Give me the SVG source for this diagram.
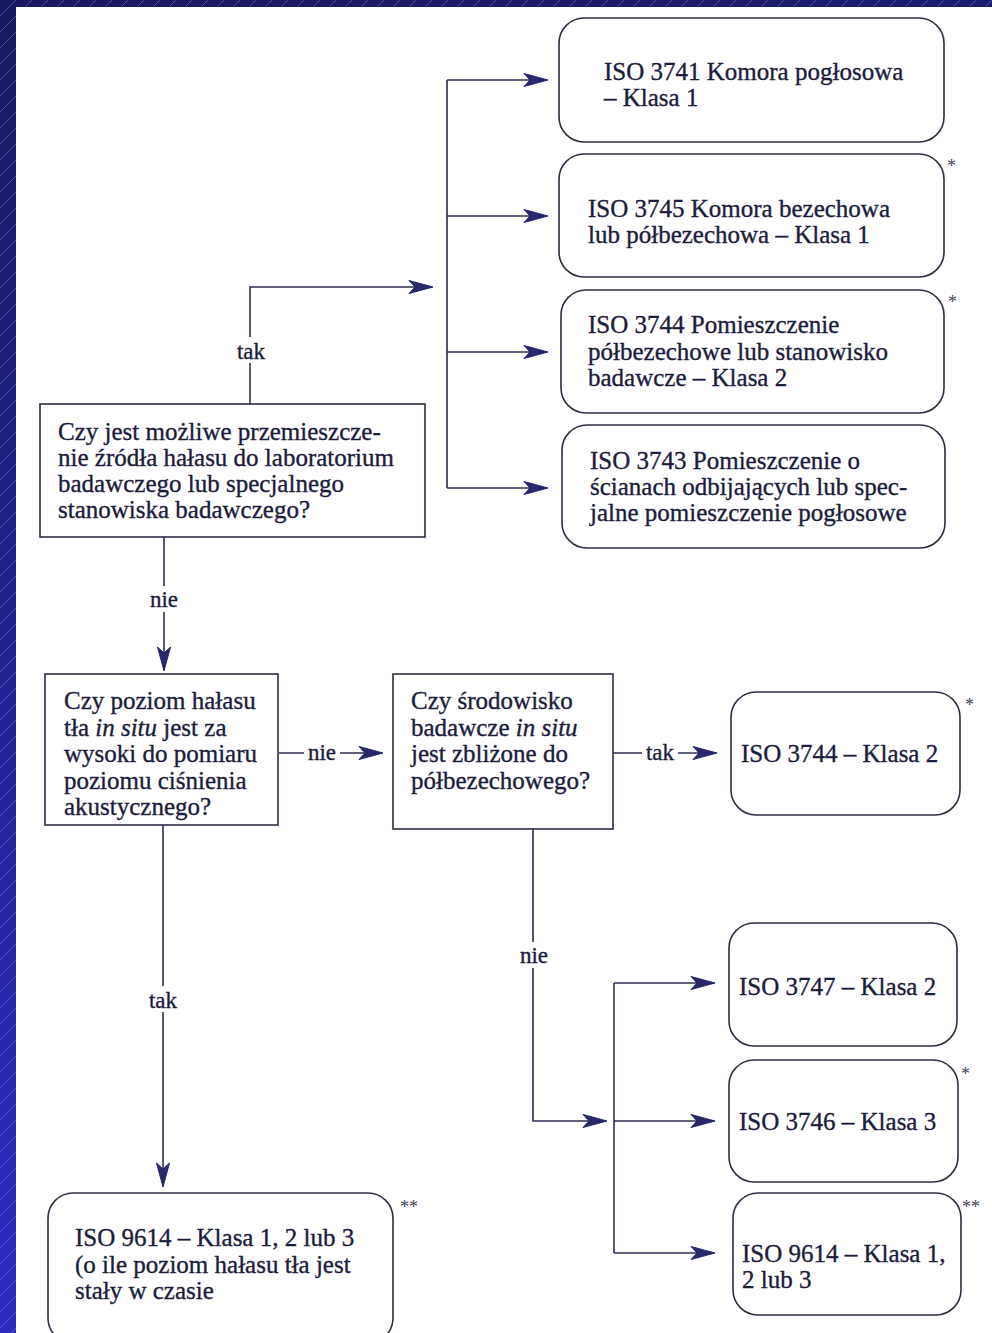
<svg xmlns="http://www.w3.org/2000/svg" width="992" height="1333" viewBox="0 0 992 1333">
<defs>
<linearGradient id="bg" x1="0" y1="0" x2="0.15" y2="1">
<stop offset="0" stop-color="#19195f"/>
<stop offset="1" stop-color="#2c2cc4"/>
</linearGradient>
<pattern id="stripes" patternUnits="userSpaceOnUse" width="16" height="16">
<line x1="0" y1="16" x2="16" y2="0" stroke="#9a9ae0" stroke-width="0.7" stroke-opacity="0.55"/>
</pattern>
<marker id="arr" viewBox="0 0 24 14" markerUnits="userSpaceOnUse" markerWidth="24" markerHeight="14" refX="23" refY="7" orient="auto" overflow="visible">
<path d="M0,0.5 L24,7 L0,13.5 L6,7 Z" fill="#28286c" stroke="#28286c" stroke-width="1" stroke-linejoin="round"/>
</marker>
<style>
.box{fill:#ffffff;stroke:#2e2e44;stroke-width:1.6}
.t{font-family:"Liberation Serif","DejaVu Serif",serif;font-size:25px;fill:#1c1c3c;stroke:#1c1c3c;stroke-width:0.35}
.lbl{font-family:"Liberation Serif","DejaVu Serif",serif;font-size:23px;fill:#1c1c3c;stroke:#1c1c3c;stroke-width:0.35;text-anchor:middle}
.star{font-family:"Liberation Serif","DejaVu Serif",serif;font-size:18px;fill:#444455}
.c{fill:none;stroke:#2e2e55;stroke-width:1.6}
.lbg{fill:#ffffff}
</style>
</defs>
<rect x="0" y="0" width="992" height="1333" fill="url(#bg)"/>
<rect x="0" y="0" width="992" height="1333" fill="url(#stripes)"/>
<rect x="16" y="7" width="976" height="1326" fill="#ffffff"/>

<g id="connectors">
<path class="c" d="M250,404 V287 H432" marker-end="url(#arr)"/>
<path class="c" d="M447,80 V488"/>
<path class="c" d="M447,80 H547" marker-end="url(#arr)"/>
<path class="c" d="M447,216 H547" marker-end="url(#arr)"/>
<path class="c" d="M447,352 H547" marker-end="url(#arr)"/>
<path class="c" d="M447,488 H547" marker-end="url(#arr)"/>
<path class="c" d="M164,537 V670" marker-end="url(#arr)"/>
<path class="c" d="M279,753 H382" marker-end="url(#arr)"/>
<path class="c" d="M613,753 H716" marker-end="url(#arr)"/>
<path class="c" d="M533,829 V1121 H606" marker-end="url(#arr)"/>
<path class="c" d="M614,983 V1253"/>
<path class="c" d="M614,983 H714" marker-end="url(#arr)"/>
<path class="c" d="M614,1121 H714" marker-end="url(#arr)"/>
<path class="c" d="M614,1253 H714" marker-end="url(#arr)"/>
<path class="c" d="M163,825 V1186" marker-end="url(#arr)"/>
<rect class="lbg" x="233" y="337" width="36" height="26"/>
<text class="lbl" x="251" y="359">tak</text>
<rect class="lbg" x="146" y="586" width="36" height="26"/>
<text class="lbl" x="164" y="607">nie</text>
<rect class="lbg" x="304" y="740" width="36" height="26"/>
<text class="lbl" x="322" y="760">nie</text>
<rect class="lbg" x="642" y="740" width="36" height="26"/>
<text class="lbl" x="660" y="760">tak</text>
<rect class="lbg" x="516" y="942" width="36" height="26"/>
<text class="lbl" x="534" y="963">nie</text>
<rect class="lbg" x="145" y="986" width="36" height="26"/>
<text class="lbl" x="163" y="1008">tak</text>
</g>

<g id="iso3741">
<rect class="box" x="559" y="18" width="385" height="124" rx="25"/>
<text class="t" x="604" y="80">ISO 3741 Komora pogłosowa</text>
<text class="t" x="604" y="106">– Klasa 1</text>
</g>
<g id="iso3745">
<rect class="box" x="559" y="154" width="385" height="123" rx="25"/>
<text class="t" x="588" y="217">ISO 3745 Komora bezechowa</text>
<text class="t" x="588" y="243">lub półbezechowa – Klasa 1</text>
<text class="star" x="947" y="172">*</text>
</g>
<g id="iso3744a">
<rect class="box" x="561" y="290" width="383" height="123" rx="25"/>
<text class="t" x="588" y="333">ISO 3744 Pomieszczenie</text>
<text class="t" x="588" y="360">półbezechowe lub stanowisko</text>
<text class="t" x="588" y="386">badawcze – Klasa 2</text>
<text class="star" x="948" y="308">*</text>
</g>
<g id="iso3743">
<rect class="box" x="562" y="425" width="383" height="123" rx="25"/>
<text class="t" x="590" y="469">ISO 3743 Pomieszczenie o</text>
<text class="t" x="590" y="495">ścianach odbijających lub spec-</text>
<text class="t" x="590" y="521">jalne pomieszczenie pogłosowe</text>
</g>

<g id="q1">
<rect class="box" x="40" y="404" width="385" height="133"/>
<text class="t" x="58" y="440">Czy jest możliwe przemieszcze-</text>
<text class="t" x="58" y="466">nie źródła hałasu do laboratorium</text>
<text class="t" x="58" y="492">badawczego lub specjalnego</text>
<text class="t" x="58" y="518">stanowiska badawczego?</text>
</g>

<g id="q2">
<rect class="box" x="45" y="674" width="233" height="151"/>
<text class="t" x="64" y="709">Czy poziom hałasu</text>
<text class="t" x="64" y="736">tła <tspan font-style="italic">in situ</tspan> jest za</text>
<text class="t" x="64" y="762">wysoki do pomiaru</text>
<text class="t" x="64" y="789">poziomu ciśnienia</text>
<text class="t" x="64" y="815">akustycznego?</text>
</g>

<g id="q3">
<rect class="box" x="393" y="674" width="220" height="155"/>
<text class="t" x="411" y="709">Czy środowisko</text>
<text class="t" x="411" y="736">badawcze <tspan font-style="italic">in situ</tspan></text>
<text class="t" x="411" y="762">jest zbliżone do</text>
<text class="t" x="411" y="789">półbezechowego?</text>
</g>

<g id="iso3744b">
<rect class="box" x="731" y="692" width="229" height="123" rx="25"/>
<text class="t" x="741" y="762">ISO 3744 – Klasa 2</text>
<text class="star" x="965" y="711">*</text>
</g>
<g id="iso3747">
<rect class="box" x="729" y="923" width="228" height="123" rx="25"/>
<text class="t" x="739" y="995">ISO 3747 – Klasa 2</text>
</g>
<g id="iso3746">
<rect class="box" x="729" y="1060" width="229" height="122" rx="25"/>
<text class="t" x="739" y="1130">ISO 3746 – Klasa 3</text>
<text class="star" x="961" y="1080">*</text>
</g>
<g id="iso9614b">
<rect class="box" x="733" y="1193" width="228" height="122" rx="25"/>
<text class="t" x="742" y="1262">ISO 9614 – Klasa 1,</text>
<text class="t" x="742" y="1288">2 lub 3</text>
<text class="star" x="962" y="1213">**</text>
</g>
<g id="iso9614a">
<rect class="box" x="48" y="1193" width="345" height="150" rx="25"/>
<text class="t" x="75" y="1246">ISO 9614 – Klasa 1, 2 lub 3</text>
<text class="t" x="75" y="1273">(o ile poziom hałasu tła jest</text>
<text class="t" x="75" y="1299">stały w czasie</text>
<text class="star" x="400" y="1213">**</text>
</g>
</svg>
